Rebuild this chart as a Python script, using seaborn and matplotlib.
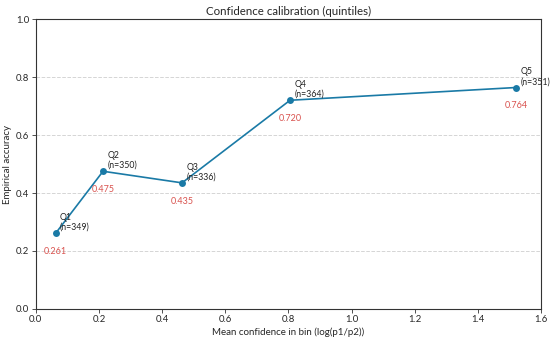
import pandas as pd
import numpy as np
import seaborn as sns
import matplotlib.pyplot as plt

# bins (quintiles)
quintiles = ["Q1", "Q2", "Q3", "Q4", "Q5"]
counts = [349, 350, 336, 364, 351]
mean_conf = [0.063, 0.213, 0.463, 0.805, 1.521]
accuracy = [0.261, 0.475, 0.435, 0.720, 0.764]

df = pd.DataFrame({"conf": mean_conf, "acc": accuracy, "q": quintiles, "n": counts})

sns.set_theme(style="white")
plt.rcParams["font.family"] = ["Lato", "DejaVu Sans"]

fig = plt.figure(figsize=(5.5, 3.41), dpi=100)
ax = fig.add_axes([0.065, 0.094, 0.919, 0.85])

line_col = "#1a7aa6"
red = "#d9534f"

sns.lineplot(data=df, x="conf", y="acc", ax=ax, color=line_col, lw=1.2,
             marker="o", markersize=5, markeredgewidth=0, sort=False)

for _, r in df.iterrows():
    ax.annotate(f"{r.q}\n(n={r.n})", (r.conf, r.acc), xytext=(3, 1),
                textcoords="offset points", fontsize=6.3, color="#222222",
                ha="left", va="bottom", linespacing=1.1)
    ax.annotate(f"{r.acc:.3f}", (r.conf, r.acc), xytext=(0, -10),
                textcoords="offset points", fontsize=6.5, color=red,
                ha="center", va="top")

ax.set_xlim(0, 1.6)
ax.set_ylim(0, 1.0)
ax.set_xticks(np.arange(0, 1.61, 0.2))
ax.set_yticks(np.arange(0, 1.01, 0.2))
ax.yaxis.grid(True, ls="--", color="#d5d5d5", lw=0.7)
ax.xaxis.grid(False)
for s in ax.spines.values():
    s.set_color("#333333")
    s.set_linewidth(0.8)
ax.tick_params(axis="both", labelsize=6.8, length=3, width=0.6, pad=1.5,
               color="#333333", bottom=True, left=True)

ax.set_title("Confidence calibration (quintiles)", fontsize=8.3, pad=3)
ax.set_xlabel("Mean confidence in bin (log(p1/p2))", fontsize=7, labelpad=2)
ax.set_ylabel("Empirical accuracy", fontsize=7, labelpad=3)

fig.savefig("out.png", dpi=100)
